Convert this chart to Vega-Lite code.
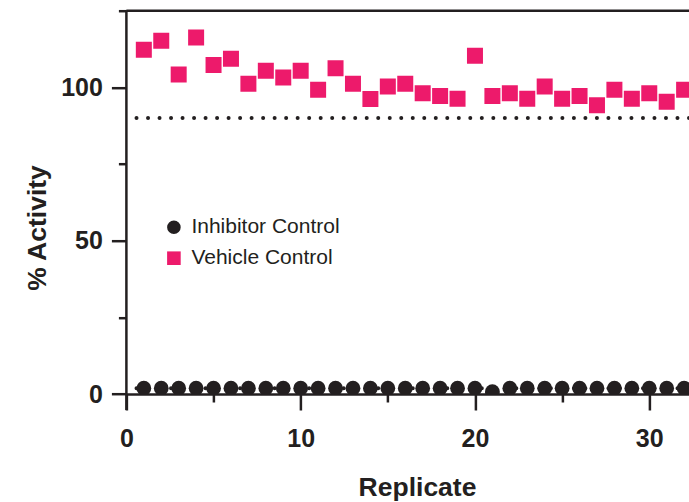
{
  "$schema": "https://vega.github.io/schema/vega-lite/v6.json",
  "width": 562.6,
  "height": 383.3,
  "autosize": {"type": "none"},
  "padding": {"left": 126.4, "top": 10.7, "right": 0, "bottom": 108},
  "background": "white",
  "config": {
    "view": {"stroke": null},
    "axis": {
      "grid": false,
      "labelFont": "Liberation Sans",
      "labelFontSize": 25,
      "labelFontWeight": "bold",
      "labelColor": "#231f20",
      "titleFont": "Liberation Sans",
      "titleFontSize": 26.5,
      "titleFontWeight": "bold",
      "titleColor": "#231f20",
      "domainColor": "#231f20",
      "domainWidth": 2.5,
      "tickColor": "#231f20",
      "tickWidth": 2.5
    },
    "legend": {
      "orient": "none",
      "legendX": 37,
      "legendY": 206,
      "labelFont": "Liberation Sans",
      "labelFontSize": 21,
      "labelColor": "#231f20",
      "symbolSize": 185,
      "symbolStrokeWidth": 0,
      "rowPadding": 9,
      "labelOffset": 7,
      "padding": 0
    }
  },
  "layer": [
    {
      "data": {"values": [{"level": 90}, {"level": 1.9}]},
      "mark": {"type": "rule", "color": "#231f20", "strokeWidth": 4, "strokeCap": "round", "strokeDash": [0.01, 11.5]},
      "encoding": {"y": {"field": "level", "type": "quantitative"}}
    },
    {
      "data": {"values": [{"top": 125}]},
      "mark": {"type": "rule", "color": "#231f20", "strokeWidth": 2.5},
      "encoding": {"y": {"field": "top", "type": "quantitative"}}
    },
    {
      "data": {"values": [{"x0": 0, "lo": -5.2, "hi": 125}]},
      "mark": {"type": "rule", "color": "#231f20", "strokeWidth": 2.5},
      "encoding": {
        "x": {"field": "x0", "type": "quantitative"},
        "y": {"field": "lo", "type": "quantitative"},
        "y2": {"field": "hi"}
      }
    },
    {
      "data": {"values": [
        {"replicate": 1, "activity": 1.9, "series": "Inhibitor Control"},
        {"replicate": 2, "activity": 1.9, "series": "Inhibitor Control"},
        {"replicate": 3, "activity": 1.9, "series": "Inhibitor Control"},
        {"replicate": 4, "activity": 1.9, "series": "Inhibitor Control"},
        {"replicate": 5, "activity": 1.9, "series": "Inhibitor Control"},
        {"replicate": 6, "activity": 1.9, "series": "Inhibitor Control"},
        {"replicate": 7, "activity": 1.9, "series": "Inhibitor Control"},
        {"replicate": 8, "activity": 1.9, "series": "Inhibitor Control"},
        {"replicate": 9, "activity": 1.9, "series": "Inhibitor Control"},
        {"replicate": 10, "activity": 1.9, "series": "Inhibitor Control"},
        {"replicate": 11, "activity": 1.9, "series": "Inhibitor Control"},
        {"replicate": 12, "activity": 1.9, "series": "Inhibitor Control"},
        {"replicate": 13, "activity": 1.9, "series": "Inhibitor Control"},
        {"replicate": 14, "activity": 1.9, "series": "Inhibitor Control"},
        {"replicate": 15, "activity": 1.9, "series": "Inhibitor Control"},
        {"replicate": 16, "activity": 1.9, "series": "Inhibitor Control"},
        {"replicate": 17, "activity": 1.9, "series": "Inhibitor Control"},
        {"replicate": 18, "activity": 1.9, "series": "Inhibitor Control"},
        {"replicate": 19, "activity": 1.9, "series": "Inhibitor Control"},
        {"replicate": 20, "activity": 1.9, "series": "Inhibitor Control"},
        {"replicate": 21, "activity": 0.75, "series": "Inhibitor Control"},
        {"replicate": 22, "activity": 1.9, "series": "Inhibitor Control"},
        {"replicate": 23, "activity": 1.9, "series": "Inhibitor Control"},
        {"replicate": 24, "activity": 1.9, "series": "Inhibitor Control"},
        {"replicate": 25, "activity": 1.9, "series": "Inhibitor Control"},
        {"replicate": 26, "activity": 1.9, "series": "Inhibitor Control"},
        {"replicate": 27, "activity": 1.9, "series": "Inhibitor Control"},
        {"replicate": 28, "activity": 1.9, "series": "Inhibitor Control"},
        {"replicate": 29, "activity": 1.9, "series": "Inhibitor Control"},
        {"replicate": 30, "activity": 1.9, "series": "Inhibitor Control"},
        {"replicate": 31, "activity": 1.9, "series": "Inhibitor Control"},
        {"replicate": 32, "activity": 1.9, "series": "Inhibitor Control"}
      ]},
      "mark": {"type": "point", "filled": true, "opacity": 1, "size": 219, "strokeWidth": 0, "clip": true},
      "encoding": {
        "x": {
          "field": "replicate", "type": "quantitative",
          "scale": {"domain": [0, 32.28], "nice": false, "zero": false},
          "axis": {
            "values": [0, 5, 10, 15, 20, 25, 30],
            "labelExpr": "datum.value % 10 === 0 ? datum.label : ''",
            "tickSize": {"condition": {"test": "datum.value % 10 === 0", "value": 16}, "value": 8},
            "labelPadding": 16,
            "labelFlush": false,
            "title": "Replicate",
            "titleX": 290.6,
            "titleY": 101,
            "titleBaseline": "alphabetic",
            "titleAlign": "center"
          }
        },
        "y": {
          "field": "activity", "type": "quantitative",
          "scale": {"domain": [0, 125], "nice": false},
          "axis": {
            "values": [0, 25, 50, 75, 100, 125],
            "labelExpr": "datum.value % 50 === 0 ? datum.label : ''",
            "tickSize": {"condition": {"test": "datum.value % 50 === 0", "value": 15}, "value": 8},
            "labelPadding": 9,
            "domain": false,
            "labelFlush": false,
            "title": "% Activity",
            "titleX": -80.9,
            "titleY": 216.8,
            "titleBaseline": "alphabetic",
            "titleAlign": "center",
            "titleAngle": -90
          }
        },
        "color": {
          "field": "series", "type": "nominal",
          "scale": {"domain": ["Inhibitor Control", "Vehicle Control"], "range": ["#231f20", "#ed1a6b"]},
          "legend": {"title": null}
        },
        "shape": {
          "field": "series", "type": "nominal",
          "scale": {"domain": ["Inhibitor Control", "Vehicle Control"], "range": ["circle", "square"]},
          "legend": {"title": null}
        }
      }
    },
    {
      "data": {"values": [
        {"replicate": 1, "activity": 112.3, "series": "Vehicle Control"},
        {"replicate": 2, "activity": 115.2, "series": "Vehicle Control"},
        {"replicate": 3, "activity": 104.2, "series": "Vehicle Control"},
        {"replicate": 4, "activity": 116.3, "series": "Vehicle Control"},
        {"replicate": 5, "activity": 107.3, "series": "Vehicle Control"},
        {"replicate": 6, "activity": 109.3, "series": "Vehicle Control"},
        {"replicate": 7, "activity": 101.2, "series": "Vehicle Control"},
        {"replicate": 8, "activity": 105.4, "series": "Vehicle Control"},
        {"replicate": 9, "activity": 103.2, "series": "Vehicle Control"},
        {"replicate": 10, "activity": 105.4, "series": "Vehicle Control"},
        {"replicate": 11, "activity": 99.2, "series": "Vehicle Control"},
        {"replicate": 12, "activity": 106.2, "series": "Vehicle Control"},
        {"replicate": 13, "activity": 101.2, "series": "Vehicle Control"},
        {"replicate": 14, "activity": 96.2, "series": "Vehicle Control"},
        {"replicate": 15, "activity": 100.3, "series": "Vehicle Control"},
        {"replicate": 16, "activity": 101.2, "series": "Vehicle Control"},
        {"replicate": 17, "activity": 98.1, "series": "Vehicle Control"},
        {"replicate": 18, "activity": 97.2, "series": "Vehicle Control"},
        {"replicate": 19, "activity": 96.3, "series": "Vehicle Control"},
        {"replicate": 20, "activity": 110.3, "series": "Vehicle Control"},
        {"replicate": 21, "activity": 97.2, "series": "Vehicle Control"},
        {"replicate": 22, "activity": 98.1, "series": "Vehicle Control"},
        {"replicate": 23, "activity": 96.3, "series": "Vehicle Control"},
        {"replicate": 24, "activity": 100.3, "series": "Vehicle Control"},
        {"replicate": 25, "activity": 96.3, "series": "Vehicle Control"},
        {"replicate": 26, "activity": 97.2, "series": "Vehicle Control"},
        {"replicate": 27, "activity": 94.2, "series": "Vehicle Control"},
        {"replicate": 28, "activity": 99.2, "series": "Vehicle Control"},
        {"replicate": 29, "activity": 96.3, "series": "Vehicle Control"},
        {"replicate": 30, "activity": 98.1, "series": "Vehicle Control"},
        {"replicate": 31, "activity": 95.3, "series": "Vehicle Control"},
        {"replicate": 32, "activity": 99.2, "series": "Vehicle Control"}
      ]},
      "mark": {"type": "point", "filled": true, "opacity": 1, "size": 256, "strokeWidth": 0, "clip": true},
      "encoding": {
        "x": {"field": "replicate", "type": "quantitative"},
        "y": {"field": "activity", "type": "quantitative"},
        "color": {"field": "series", "type": "nominal"},
        "shape": {"field": "series", "type": "nominal"}
      }
    }
  ]
}
